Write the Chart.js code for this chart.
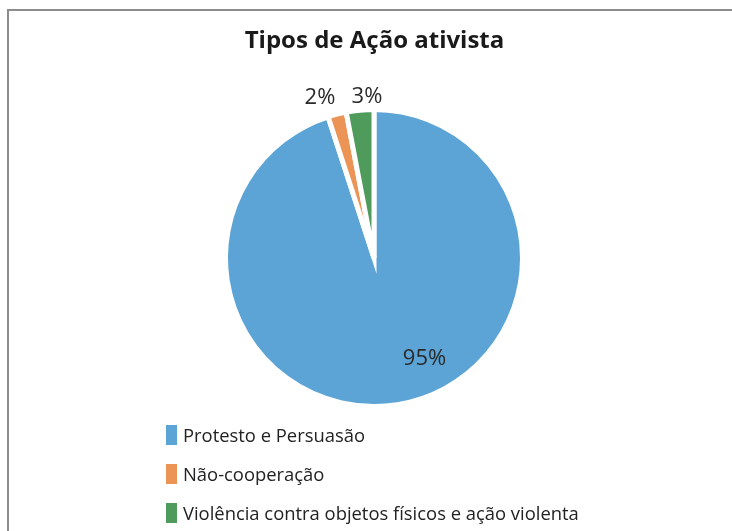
<!DOCTYPE html>
<html><head><meta charset="utf-8">
<script src="https://cdn.jsdelivr.net/npm/chart.js@4"></script>
<style>
body{margin:0;background:#fff;}
#wrap{position:relative;width:732px;height:531px;overflow:hidden;background:#fff;}
#frame{position:absolute;left:7px;top:9px;width:800px;height:600px;border-left:2px solid #8c8c8c;border-top:2px solid #8c8c8c;}
canvas{position:absolute;left:0;top:0;}
#title{position:absolute;left:0;width:749px;top:22px;text-align:center;font-family:'Open Sans';font-weight:bold;font-size:24px;color:#1a1a1a;line-height:34px;}
#legend{position:absolute;left:166px;top:415px;font-family:'Open Sans';font-size:18.4px;color:#222;}
.row{display:flex;align-items:center;height:39px;}
.box{width:11px;height:20px;margin-right:6px;}
</style></head>
<body>
<div id="wrap">
<div id="frame"></div>
<canvas id="c" width="732" height="531"></canvas>
<div id="title"></div>
<div id="legend"></div>
</div>
<script>
const chartTitle = 'Tipos de Ação ativista';
const categories = ['Protesto e Persuasão', 'Não-cooperação', 'Violência contra objetos físicos e ação violenta'];
const values = [95, 2, 3];
const colors = ['#5ba4d5', '#ec9455', '#4f9b5c'];

document.getElementById('title').textContent = chartTitle;
const leg = document.getElementById('legend');
categories.forEach((c, i) => {
  const row = document.createElement('div'); row.className = 'row';
  const b = document.createElement('div'); b.className = 'box'; b.style.background = colors[i];
  const t = document.createElement('span'); t.textContent = c;
  row.appendChild(b); row.appendChild(t); leg.appendChild(row);
});

const total = values.reduce((a, b) => a + b, 0);
const pctLabels = values.map(v => Math.round(v / total * 100) + '%');

const labelPlugin = {
  id: 'sliceLabels',
  afterDatasetsDraw(chart, args, opts) {
    const meta = chart.getDatasetMeta(0);
    const ctx = chart.ctx;
    ctx.save();
    ctx.font = opts.font;
    ctx.fillStyle = opts.color;
    ctx.textAlign = 'center';
    ctx.textBaseline = 'middle';
    meta.data.forEach((arc, i) => {
      const p = arc.getProps(['x', 'y', 'startAngle', 'endAngle', 'outerRadius'], true);
      const a = (p.startAngle + p.endAngle) / 2 + opts.angleShift[i] * Math.PI / 180;
      const r = p.outerRadius * opts.radiusFactor[i];
      ctx.fillText(pctLabels[i], p.x + Math.cos(a) * r, p.y + Math.sin(a) * r);
    });
    ctx.restore();
  }
};

new Chart(document.getElementById('c'), {
  type: 'pie',
  data: {
    labels: categories,
    datasets: [{
      data: values,
      backgroundColor: colors,
      borderColor: '#ffffff',
      borderWidth: 5,
      borderJoinStyle: 'miter'
    }]
  },
  options: {
    responsive: false,
    animation: false,
    devicePixelRatio: 1,
    layout: { padding: { left: 223, right: 207, top: 107, bottom: 122 } },
    plugins: {
      legend: { display: false },
      title: { display: false },
      tooltip: { enabled: false },
      sliceLabels: {
        font: '22px "Open Sans"',
        color: '#2a2a2a',
        angleShift: [-17.6, -4.2, 2.9],
        radiusFactor: [0.76, 1.14, 1.09]
      }
    }
  },
  plugins: [labelPlugin]
});
</script>
</body></html>
